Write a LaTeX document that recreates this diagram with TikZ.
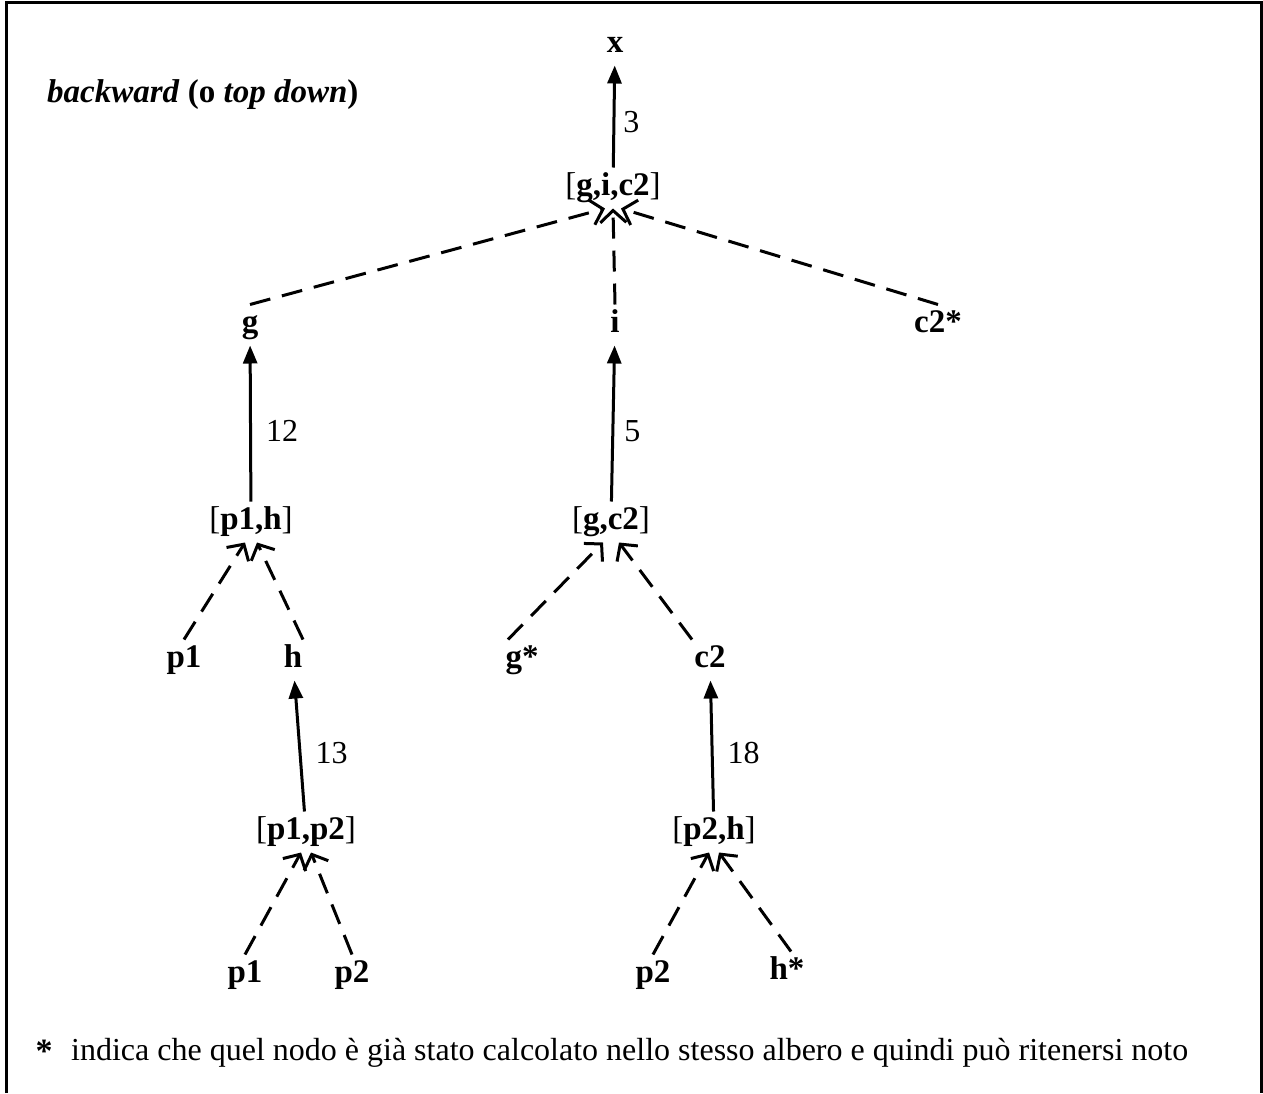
\documentclass[tikz,border=0pt]{standalone}
\usepackage{fontspec}
\setmainfont{Liberation Serif}
\usetikzlibrary{arrows.meta}
\newcommand\bkt[1]{{\mdseries[}#1{\mdseries]}}
\begin{document}
\begin{tikzpicture}[x=1pt,y=-1pt,
  lbl/.style={font=\fontsize{33}{38}\selectfont\bfseries, inner sep=2pt, outer sep=4pt,
              text height=22pt, text depth=7pt},
  num/.style={font=\fontsize{32}{36}\selectfont, inner sep=0pt},
  solidarr/.style={line width=3pt, -{Triangle[length=18pt,width=14pt]}},
  dasharr/.style={line width=3pt, dash pattern=on 21pt off 12pt,
                  -{Straight Barb[length=12pt,width=26pt,line width=3pt]}}]
\useasboundingbox (0,0) rectangle (1263,1093);
% open frame
\draw[line width=3pt] (6,1093) -- (6,2) -- (1261,2) -- (1261,1093);

% title
\node[anchor=west, inner sep=0pt, font=\fontsize{33}{38}\selectfont\bfseries] (title) at (47,95)
  {\textit{backward} (o \textit{top down})};

% root
\node[lbl] (x) at (615,45) {x};
\node[lbl] (gic2) at (613,188) {\bkt{g,i,c2}};
\draw[solidarr] (gic2) -- node[num,right=8pt,pos=0.45]{3} (x);

% second level
\node[lbl] (g) at (250,325) {g};
\node[lbl] (i) at (615,325) {i};
\node[lbl] (c2s) at (938,325) {c2*};
\draw[dasharr] (g.north) -- ([xshift=-8pt]gic2.south);
\draw[dasharr] (i.north) -- (gic2.south);
\draw[dasharr] (c2s.north) -- ([xshift=8pt]gic2.south);

% left branch
\node[lbl] (p1h) at (251,522) {\bkt{p1,h}};
\draw[solidarr] (p1h) -- node[num,right=14pt,pos=0.45]{12} (g);
\node[lbl] (p1a) at (184,660) {p1};
\node[lbl] (h) at (293,660) {h};
\draw[dasharr] (p1a.north) -- ([xshift=-6pt]p1h.south);
\draw[dasharr] ([xshift=10pt]h.north) -- ([xshift=6pt]p1h.south);

\node[lbl] (p1p2) at (306,832) {\bkt{p1,p2}};
\draw[solidarr] (p1p2) -- node[num,right=14pt,pos=0.45]{13} (h);
\node[lbl] (p1b) at (245,975) {p1};
\node[lbl] (p2a) at (352,975) {p2};
\draw[dasharr] (p1b.north) -- ([xshift=-5pt]p1p2.south);
\draw[dasharr] (p2a.north) -- ([xshift=5pt]p1p2.south);

% middle branch
\node[lbl] (gc2) at (611,522) {\bkt{g,c2}};
\draw[solidarr] (gc2) -- node[num,right=10pt,pos=0.45]{5} (i);
\node[lbl] (gs) at (522,660) {g*};
\node[lbl] (c2) at (710,660) {c2};
\draw[dasharr] ([xshift=-14pt]gs.north) -- ([xshift=-8pt]gc2.south);
\draw[dasharr] ([xshift=-18pt]c2.north) -- ([xshift=8pt]gc2.south);

\node[lbl] (p2h) at (714,832) {\bkt{p2,h}};
\draw[solidarr] (p2h) -- node[num,right=14pt,pos=0.45]{18} (c2);
\node[lbl] (p2b) at (653,975) {p2};
\node[lbl] (hs) at (787,972) {h*};
\draw[dasharr] (p2b.north) -- ([xshift=-5pt]p2h.south);
\draw[dasharr] ([xshift=4pt]hs.north) -- ([xshift=5pt]p2h.south);

% footnote
\node[anchor=base, inner sep=0pt, font=\fontsize{34}{38}\selectfont\bfseries] (star) at (44,1062) {*};
\node[anchor=base west, inner sep=0pt, font=\fontsize{32}{36}\selectfont] (note) at (71,1060)
  {indica che quel nodo è già stato calcolato nello stesso albero e quindi può ritenersi noto};
\end{tikzpicture}
\end{document}
